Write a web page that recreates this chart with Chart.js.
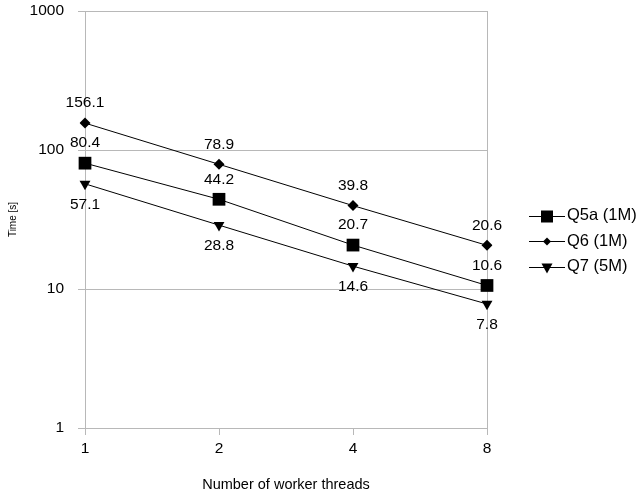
<!DOCTYPE html>
<html>
<head>
<meta charset="UTF-8">
<title>Time vs worker threads</title>
<script src="https://cdn.jsdelivr.net/npm/chart.js"></script>
<style>
  body { margin: 0; background: #fff; }
  #wrap { width: 641px; height: 495px; }
</style>
</head>
<body>
<div id="wrap"><canvas id="myChart" width="641" height="495"></canvas></div>
<script>
  // datos
  const threads = ['1', '2', '4', '8'];
  const q5a = [80.4, 44.2, 20.7, 10.6];
  const q6 = [156.1, 78.9, 39.8, 20.6];
  const q7 = [57.1, 28.8, 14.6, 7.8];
  const yTicks = [1, 10, 100, 1000];
  const seriesNames = ['Q5a (1M)', 'Q6 (1M)', 'Q7 (5M)'];

  const FONT = "'Liberation Sans', Arial, sans-serif";
  const GRID = '#b8b8b8';

  // etiquetas de valor: encima (-) o debajo (+) del punto
  const labelOffset = [-20, -20, 21];

  const valueLabels = {
    id: 'valueLabels',
    afterDatasetsDraw(chart) {
      const ctx = chart.ctx;
      ctx.save();
      ctx.font = '15.5px ' + FONT;
      ctx.fillStyle = '#000';
      ctx.textAlign = 'center';
      ctx.textBaseline = 'middle';
      chart.data.datasets.forEach((ds, i) => {
        const meta = chart.getDatasetMeta(i);
        meta.data.forEach((pt, j) => {
          ctx.fillText(ds.data[j].toFixed(1), pt.x, pt.y + labelOffset[i]);
        });
      });
      ctx.restore();
    }
  };

  // leyenda a la derecha con linea + marcador
  function marker(ctx, style, x, y) {
    ctx.beginPath();
    if (style === 'rect') {
      ctx.rect(x - 6, y - 6, 12, 12);
    } else if (style === 'rectRot') {
      ctx.moveTo(x - 4, y); ctx.lineTo(x, y - 4); ctx.lineTo(x + 4, y); ctx.lineTo(x, y + 4);
    } else {
      ctx.moveTo(x - 5.5, y - 4); ctx.lineTo(x + 5.5, y - 4); ctx.lineTo(x, y + 6);
    }
    ctx.closePath();
    ctx.fill();
  }

  const sideLegend = {
    id: 'sideLegend',
    afterDraw(chart) {
      const ctx = chart.ctx;
      ctx.save();
      ctx.font = '16.5px ' + FONT;
      ctx.textBaseline = 'middle';
      ctx.textAlign = 'left';
      ctx.fillStyle = '#000';
      ctx.strokeStyle = '#000';
      ctx.lineWidth = 1;
      const x0 = 529, x1 = 565;
      chart.data.datasets.forEach((ds, i) => {
        const y = 215.5 + i * 25.5;
        ctx.beginPath();
        ctx.moveTo(x0, Math.round(y) + 0.5);
        ctx.lineTo(x1, Math.round(y) + 0.5);
        ctx.stroke();
        marker(ctx, ds.pointStyle, (x0 + x1) / 2, Math.round(y) + 0.5);
        ctx.fillText(ds.label, 567, y);
      });
      ctx.restore();
    }
  };

  function serie(label, data, style, radius, rotation) {
    return {
      label: label,
      data: data,
      borderColor: '#000',
      backgroundColor: '#000',
      borderWidth: 1,
      pointStyle: style,
      pointRadius: radius,
      pointHoverRadius: radius,
      pointRotation: rotation,
      pointBorderWidth: 0,
      pointBackgroundColor: '#000',
      tension: 0
    };
  }

  const ctx = document.getElementById('myChart').getContext('2d');
  const myChart = new Chart(ctx, {
    type: 'line',
    data: {
      labels: threads,
      datasets: [
        serie(seriesNames[0], q5a, 'rect', 9, 0),
        serie(seriesNames[1], q6, 'rectRot', 5.5, 0),
        serie(seriesNames[2], q7, 'triangle', 6.3, 180)
      ]
    },
    options: {
      responsive: false,
      animation: false,
      layout: { padding: { left: 0, top: 11, right: 154, bottom: 0 } },
      plugins: {
        legend: { display: false },
        tooltip: { enabled: false }
      },
      scales: {
        x: {
          type: 'category',
          offset: false,
          afterFit(scale) {
            scale.height = 67;
            scale.paddingLeft = 0;
            scale.paddingRight = 0;
          },
          grid: {
            color: (c) => (c.index === 0 || c.index === 3) ? GRID : 'rgba(0,0,0,0)',
            tickColor: GRID,
            tickLength: 7,
            lineWidth: 1
          },
          border: { color: GRID },
          ticks: { color: '#000', font: { family: FONT, size: 15.5 }, padding: 4, maxRotation: 0 },
          title: {
            display: true,
            text: 'Number of worker threads',
            color: '#000',
            font: { family: FONT, size: 14.5 },
            padding: { top: 0, bottom: 1 }
          }
        },
        y: {
          type: 'logarithmic',
          min: 1,
          max: 1000,
          afterFit(scale) {
            scale.width = 85;
            scale.paddingTop = 0;
            scale.paddingBottom = 0;
          },
          afterBuildTicks(scale) { scale.ticks = yTicks.map(v => ({ value: v })); },
          grid: { color: GRID, tickColor: GRID, tickLength: 7, lineWidth: 1 },
          border: { color: GRID },
          ticks: {
            color: '#000',
            font: { family: FONT, size: 15.5 },
            padding: 14,
            callback: (v) => String(v)
          },
          title: {
            display: true,
            text: 'Time [s]',
            color: '#000',
            font: { family: FONT, size: 10 },
            padding: { top: 7, bottom: 0 }
          }
        }
      }
    },
    plugins: [valueLabels, sideLegend]
  });
</script>
</body>
</html>
